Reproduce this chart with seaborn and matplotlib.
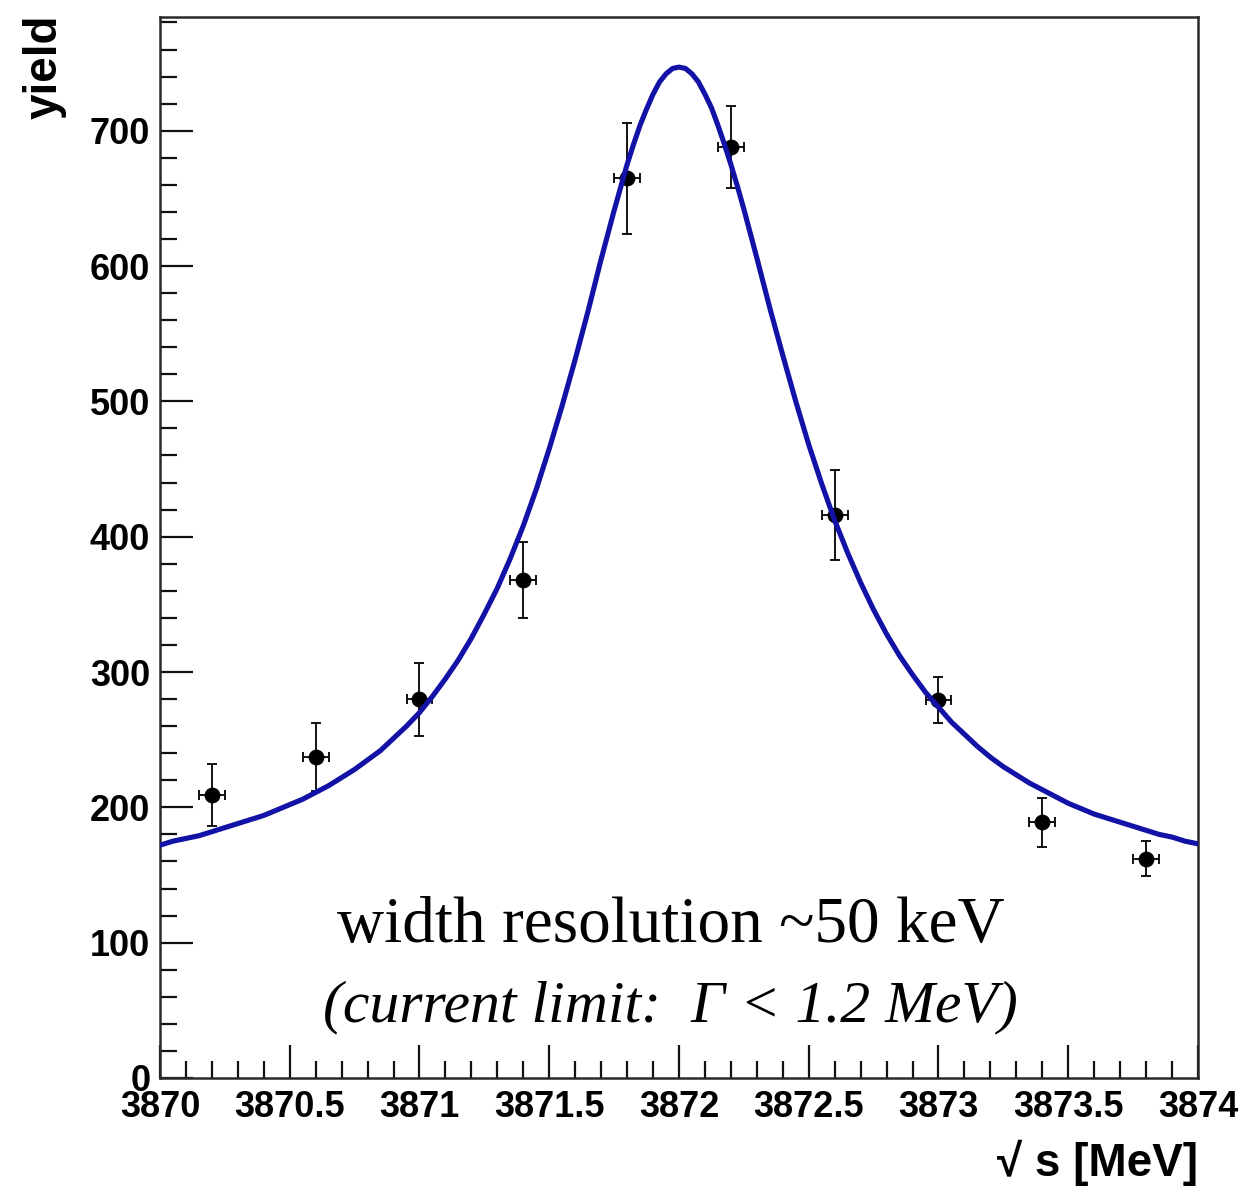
import matplotlib
matplotlib.use("Agg")
import matplotlib.pyplot as plt
from matplotlib.ticker import MultipleLocator, FormatStrFormatter
import seaborn as sns
import pandas as pd

# ---- data ----
point_x = [3870.2, 3870.6, 3871.0, 3871.4, 3871.8, 3872.2, 3872.6, 3873.0, 3873.4, 3873.8]
point_y = [209, 237, 280, 368, 665, 688, 416, 279, 189, 162]
point_yerr = [23, 25, 27, 28, 41, 30, 33, 17, 18, 13]
point_xerr = [0.05, 0.05, 0.05, 0.05, 0.05, 0.05, 0.05, 0.05, 0.05, 0.05]

curve_x = [3870.0, 3870.05, 3870.1, 3870.15, 3870.2, 3870.25, 3870.3, 3870.35, 3870.4, 3870.45,
           3870.5, 3870.55, 3870.6, 3870.65, 3870.7, 3870.75, 3870.8, 3870.85, 3870.9, 3870.95,
           3871.0, 3871.05, 3871.1, 3871.15, 3871.2, 3871.25, 3871.3, 3871.35, 3871.4, 3871.45,
           3871.5, 3871.55, 3871.6, 3871.65, 3871.7,
           3871.725, 3871.75, 3871.775, 3871.8, 3871.825, 3871.85, 3871.875, 3871.9, 3871.925,
           3871.95, 3871.975, 3872.0, 3872.025, 3872.05, 3872.075, 3872.1, 3872.125, 3872.15,
           3872.175, 3872.2, 3872.225, 3872.25, 3872.275,
           3872.3, 3872.35, 3872.4, 3872.45, 3872.5, 3872.55, 3872.6, 3872.65, 3872.7, 3872.75,
           3872.8, 3872.85, 3872.9, 3872.95, 3873.0, 3873.05, 3873.1, 3873.15, 3873.2, 3873.25,
           3873.3, 3873.35, 3873.4, 3873.45, 3873.5, 3873.55, 3873.6, 3873.65, 3873.7, 3873.75,
           3873.8, 3873.85, 3873.9, 3873.95, 3874.0]
curve_y = [172, 175, 177, 179, 182, 185, 188, 191, 194, 198,
           202, 206, 211, 216, 222, 228, 235, 242, 251, 260,
           270, 282, 295, 309, 325, 343, 362, 384, 408, 435,
           465, 497, 531, 567, 605,
           623, 641, 658, 675, 690, 704, 716, 727, 736,
           742, 746, 747, 746, 742, 736, 727, 717, 704,
           690, 675, 659, 642, 624,
           606, 569, 534, 500, 468, 439, 412, 388, 366, 346,
           328, 312, 298, 285, 274, 263, 254, 245, 237, 230,
           224, 218, 213, 208, 203, 199, 195, 192, 189, 186,
           183, 180, 178, 175, 173]

x_ticks = [3870, 3870.5, 3871, 3871.5, 3872, 3872.5, 3873, 3873.5, 3874]
y_ticks = [0, 100, 200, 300, 400, 500, 600, 700]

x_label = "√ s [MeV]"
y_label = "yield"
note_line1 = "width resolution ~50 keV"
note_line2 = "(current limit:  Γ < 1.2 MeV)"

# ---- style ----
sns.set_theme(style="white")
plt.rcParams["font.family"] = ["Liberation Sans", "DejaVu Sans"]
plt.rcParams["text.color"] = "black"
plt.rcParams["axes.labelcolor"] = "black"
plt.rcParams["xtick.color"] = "black"
plt.rcParams["ytick.color"] = "black"

fig = plt.figure(figsize=(12.43, 11.91), dpi=100)
ax = fig.add_axes([0.1287, 0.0949, 0.8351, 0.8908])

curve_df = pd.DataFrame({"x": curve_x, "y": curve_y})
pts_df = pd.DataFrame({"x": point_x, "y": point_y})

ax.errorbar(point_x, point_y, yerr=point_yerr, xerr=point_xerr, fmt="none",
            ecolor="black", elinewidth=1.3, capsize=3.8, capthick=1.3, zorder=3)
sns.scatterplot(data=pts_df, x="x", y="y", ax=ax, color="black", s=130,
                edgecolor="black", linewidth=0, zorder=4, legend=False)
sns.lineplot(data=curve_df, x="x", y="y", ax=ax, color="#1212a6", linewidth=3.7,
             sort=False, zorder=5, legend=False)
for ln in ax.get_lines():
    ln.set_solid_joinstyle("round")

ax.set_xlim(3870, 3874)
ax.set_ylim(0, 784)
ax.set_xticks(x_ticks)
ax.set_yticks(y_ticks)
ax.xaxis.set_major_formatter(FormatStrFormatter("%g"))
ax.xaxis.set_minor_locator(MultipleLocator(0.1))
ax.yaxis.set_minor_locator(MultipleLocator(20))

ax.tick_params(axis="both", which="major", direction="in", length=24, width=1.6,
               color="#111111", labelcolor="black", labelsize=26, pad=7,
               bottom=True, left=True, top=False, right=False)
ax.tick_params(axis="x", which="major", pad=9)
ax.tick_params(axis="both", which="minor", direction="in", length=12, width=1.6,
               color="#111111", bottom=True, left=True, top=False, right=False)
for lab in ax.get_xticklabels() + ax.get_yticklabels():
    lab.set_fontweight("bold")

for side in ["left", "bottom", "top", "right"]:
    ax.spines[side].set_visible(True)
    ax.spines[side].set_linewidth(1.8)
    ax.spines[side].set_color("#2a2a2a")

ax.set_xlabel(x_label, fontsize=33, fontweight="bold", ha="right", color="black")
ax.xaxis.set_label_coords(1.0, -0.058)
ax.set_ylabel(y_label, fontsize=33, fontweight="bold", ha="right", color="black")
ax.yaxis.set_label_coords(-0.09, 1.002)

ax.text(0.492, 0.128, note_line1, transform=ax.transAxes, ha="center", va="baseline",
        fontsize=47, color="black", family=["Liberation Serif", "DejaVu Serif"])
ax.text(0.492, 0.053, note_line2, transform=ax.transAxes, ha="center", va="baseline",
        fontsize=43, style="italic", color="black",
        family=["Liberation Serif", "DejaVu Serif"])

fig.savefig("out.png", dpi=100, facecolor="white")
